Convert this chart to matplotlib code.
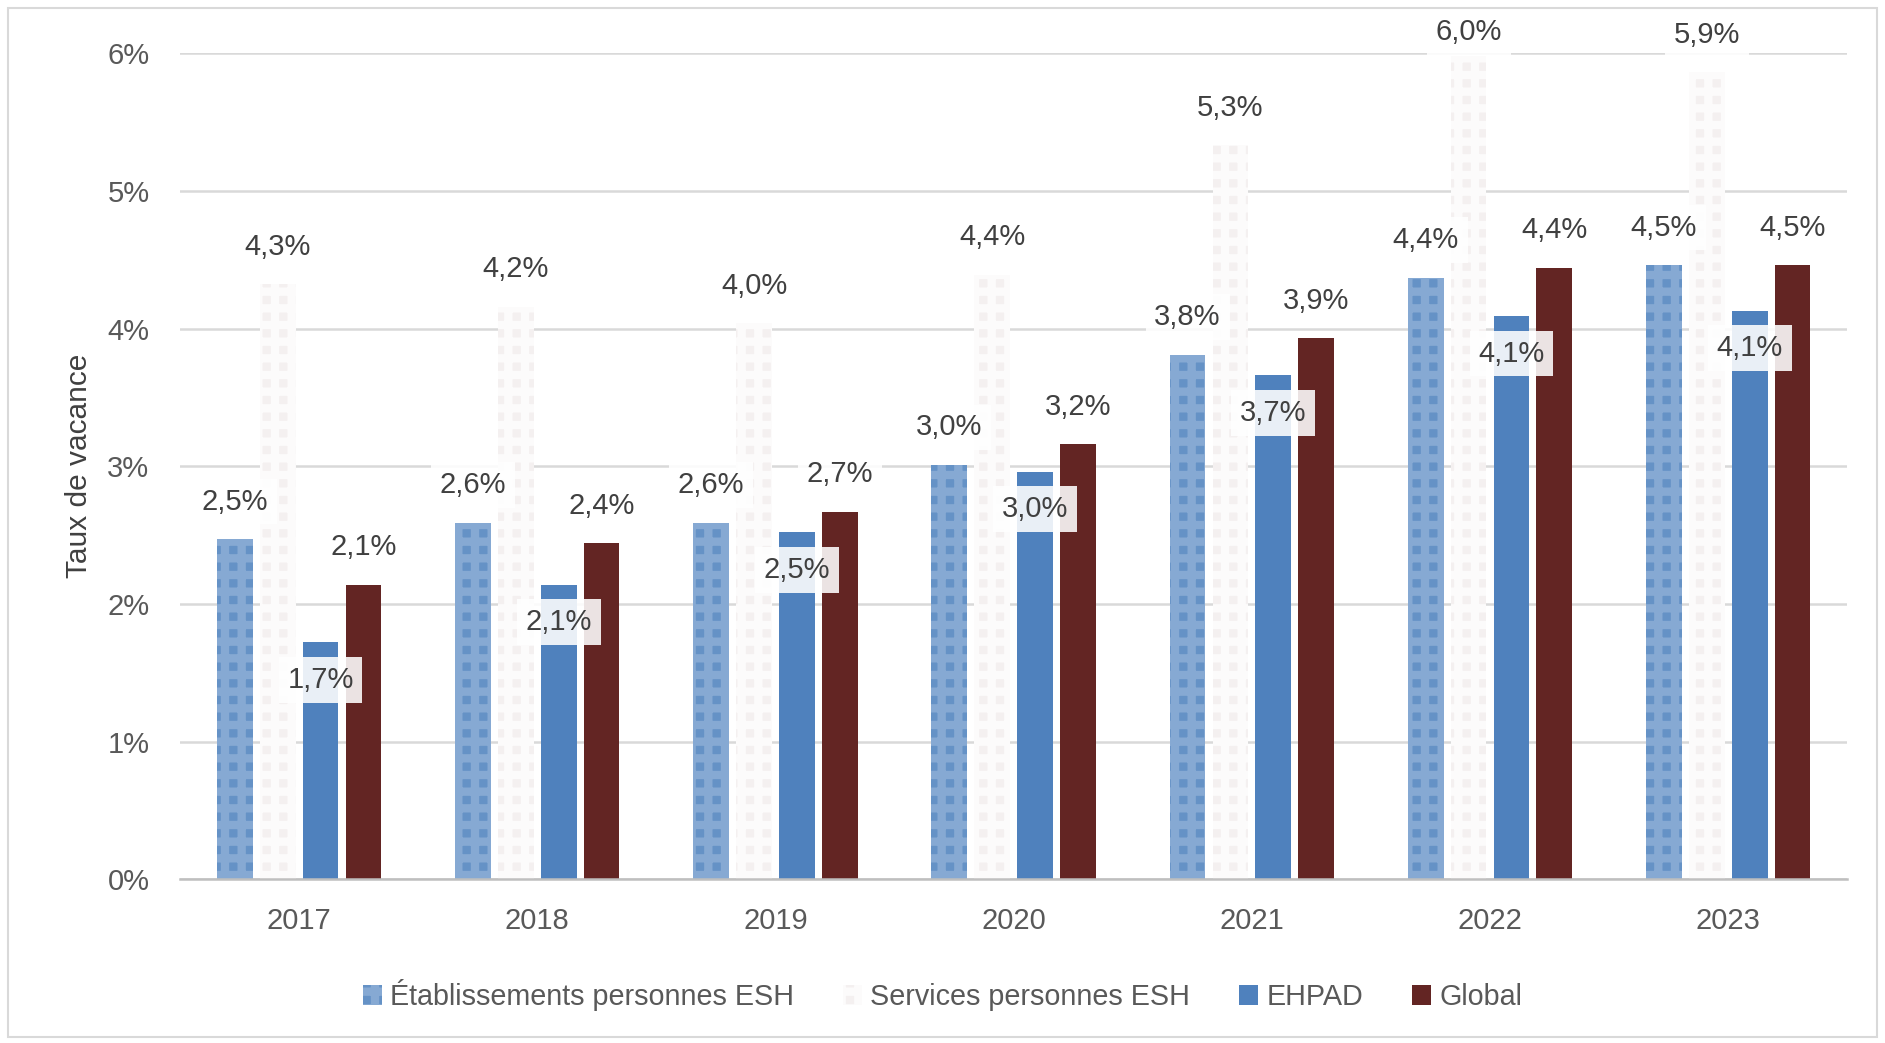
import matplotlib.pyplot as plt
import matplotlib.patches as mpatches
import numpy as np

years = ['2017', '2018', '2019', '2020', '2021', '2022', '2023']
etab_esh = [2.47, 2.59, 2.59, 3.01, 3.81, 4.37, 4.46]
services_esh = [4.32, 4.16, 4.04, 4.39, 5.33, 5.98, 5.86]
ehpad = [1.72, 2.14, 2.52, 2.96, 3.66, 4.09, 4.13]
global_rate = [2.14, 2.44, 2.67, 3.16, 3.93, 4.44, 4.46]

series = [
    ('Établissements personnes ESH', etab_esh, '#6592c6', '#86a9d3', '+', 'above'),
    ('Services personnes ESH', services_esh, '#f4f0f0', '#fcfbfb', '+', 'above'),
    ('EHPAD', ehpad, '#4f81bd', '#4f81bd', '', 'inside'),
    ('Global', global_rate, '#632523', '#632523', '', 'above'),
]

plt.rcParams['font.family'] = ['Liberation Sans', 'DejaVu Sans']
plt.rcParams['hatch.linewidth'] = 6

fig = plt.figure(figsize=(18.85, 10.43), dpi=100)
ax = fig.add_axes([0.0955, 0.157, 0.8845, 0.792])

x = np.arange(len(years))
step = 0.18
width = 0.15
label_cap = 5.88  # labels near the top are pulled down to stay in the chart

handles = []
for i, (name, vals, face, hcol, hatch, pos) in enumerate(series):
    xs = x + (i - 1.5) * step
    bars = ax.bar(xs, vals, width, color=face, edgecolor=hcol, hatch=hatch,
                  linewidth=0, zorder=2)
    handles.append(bars)
    for xi, v in zip(xs, vals):
        txt = f'{v:.1f}'.replace('.', ',') + '%'
        dy = 27 if pos == 'above' else -27
        ax.annotate(txt, (xi, min(v, label_cap)), xytext=(0, dy),
                    textcoords='offset points',
                    ha='center', va='center', fontsize=21, color='#404040',
                    zorder=5, annotation_clip=False,
                    bbox=dict(boxstyle='square,pad=0.3', facecolor='white',
                              edgecolor='none', alpha=0.88))

ax.set_xlim(-0.5, len(years) - 0.5)
ax.set_ylim(0, 6)
ax.set_yticks(range(0, 7))
ax.set_yticklabels([f'{t}%' for t in range(0, 7)])
ax.set_xticks(x)
ax.set_xticklabels(years)
ax.yaxis.grid(True, color='#d9d9d9', linewidth=1.8, zorder=0)
ax.set_axisbelow(True)
for s in ['top', 'right', 'left']:
    ax.spines[s].set_visible(False)
ax.spines['bottom'].set_color('#bfbfbf')
ax.spines['bottom'].set_linewidth(1.8)
ax.tick_params(axis='both', length=0, labelsize=21, colors='#595959')
ax.tick_params(axis='x', pad=20)
ax.tick_params(axis='y', pad=22)
ax.set_ylabel('Taux de vacance', fontsize=21.5, color='#404040', labelpad=10)

fig.legend(handles, [s[0] for s in series], loc='center', ncol=4,
           bbox_to_anchor=(0.5, 0.046), frameon=False,
           handlelength=0.65, handleheight=0.65, columnspacing=1.7,
           handletextpad=0.3, labelcolor='#595959',
           prop={'family': ['Liberation Sans Narrow', 'Liberation Sans'], 'size': 20.7})

fig.patches.append(mpatches.Rectangle((0.004, 0.006), 0.992, 0.986,
                                      transform=fig.transFigure, fill=False,
                                      edgecolor='#d9d9d9', linewidth=1.5))

plt.savefig('out.png', dpi=100)
